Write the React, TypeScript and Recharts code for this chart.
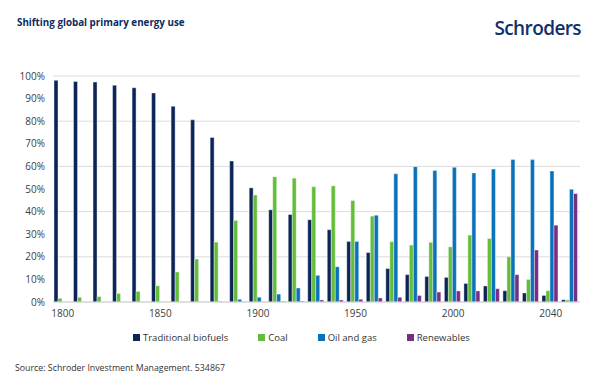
import { BarChart, Bar, XAxis, YAxis, CartesianGrid } from 'recharts';

const years = [
  '1800', '1810', '1820', '1830', '1840', '1850', '1860', '1870', '1880', '1890',
  '1900', '1910', '1920', '1930', '1940', '1950', '1960', '1970', '1980', '1990',
  '2000', '2010', '2015', '2020', '2030', '2040', '2050',
];

const biofuels = [98.1, 97.6, 97.3, 95.9, 94.8, 92.5, 86.6, 80.6, 72.8, 62.4, 50.5, 40.8, 38.7, 36.4, 32.0, 26.8, 21.9, 14.8, 12.1, 11.3, 10.9, 8.2, 7.1, 5.0, 4.0, 2.9, 1.0];
const coal = [1.6, 2.1, 2.4, 3.8, 4.7, 7.2, 13.3, 19.0, 26.5, 36.1, 47.4, 55.4, 54.8, 51.0, 51.4, 44.9, 38.0, 26.7, 25.2, 26.4, 24.4, 29.6, 28.1, 20.0, 10.0, 5.0, 0.9];
const oilGas = [0, 0, 0, 0, 0, 0, 0, 0, 0.3, 1.2, 2.1, 3.5, 6.2, 11.8, 15.6, 26.8, 38.4, 56.7, 59.9, 58.2, 59.6, 57.1, 58.8, 63.0, 63.0, 58.0, 49.9];
const renewables = [0, 0, 0, 0, 0, 0, 0, 0, 0, 0.1, 0.1, 0.3, 0.4, 0.9, 0.9, 1.2, 1.8, 2.1, 2.9, 4.4, 4.9, 4.9, 5.9, 12.1, 23.0, 34.0, 48.0];

const yTicks = [0, 10, 20, 30, 40, 50, 60, 70, 80, 90, 100];

const series = [
  { key: 'biofuels', name: 'Traditional biofuels', color: '#0b2559' },
  { key: 'coal', name: 'Coal', color: '#64bd3a' },
  { key: 'oilGas', name: 'Oil and gas', color: '#0a71bb' },
  { key: 'renewables', name: 'Renewables', color: '#7a2c86' },
];

const data = years.map((year, i) => ({
  year,
  biofuels: biofuels[i],
  coal: coal[i],
  oilGas: oilGas[i],
  renewables: renewables[i],
}));

const FONT = '"Open Sans", "Noto Sans", sans-serif';
const NAVY = '#0d2b5e';

export default function App() {
  return (
    <div style={{ position: 'fixed', left: 0, top: 0, width: 600, height: 380, background: '#fff', fontFamily: FONT }}>
      <div style={{ position: 'absolute', left: 17, top: 16, fontSize: 9.8, fontWeight: 700, color: NAVY }}>
        Shifting global primary energy use
      </div>
      <div style={{ position: 'absolute', right: 19, top: 15, fontSize: 19, fontWeight: 600, color: '#11306b', letterSpacing: -0.6 }}>
        Schroders
      </div>

      <BarChart
        width={600}
        height={380}
        data={data}
        margin={{ top: 76, right: 20, left: 8, bottom: 48 }}
        barGap={0}
        barCategoryGap={1}
      >
        <CartesianGrid stroke="#dcdcdc" vertical={false} />
        <XAxis
          dataKey="year"
          interval={4}
          axisLine={{ stroke: '#d0d0d0' }}
          tickLine={false}
          tick={{ fill: '#404040', fontSize: 10, fontFamily: FONT }}
          height={30}
        />
        <YAxis
          width={45}
          domain={[0, 100]}
          ticks={yTicks}
          tickFormatter={(v: number) => `${v}%`}
          axisLine={false}
          tickLine={false}
          tick={{ fill: '#404040', fontSize: 10, fontFamily: FONT }}
        />
        {series.map((s) => (
          <Bar
            key={s.key}
            dataKey={s.key}
            name={s.name}
            fill={s.color}
            stroke="#ffffff"
            strokeWidth={0.4}
            isAnimationActive={false}
          />
        ))}
      </BarChart>

      <div style={{ position: 'absolute', left: 133, top: 331, display: 'flex', gap: 30, fontSize: 9.5, color: '#333' }}>
        {series.map((s) => (
          <div key={s.key} style={{ display: 'flex', alignItems: 'center', gap: 3 }}>
            <span style={{ width: 7, height: 7, background: s.color, display: 'inline-block' }} />
            <span>{s.name}</span>
          </div>
        ))}
      </div>

      <div style={{ position: 'absolute', left: 15, top: 362, fontSize: 8.8, color: '#333' }}>
        Source: Schroder Investment Management. 534867
      </div>
    </div>
  );
}
